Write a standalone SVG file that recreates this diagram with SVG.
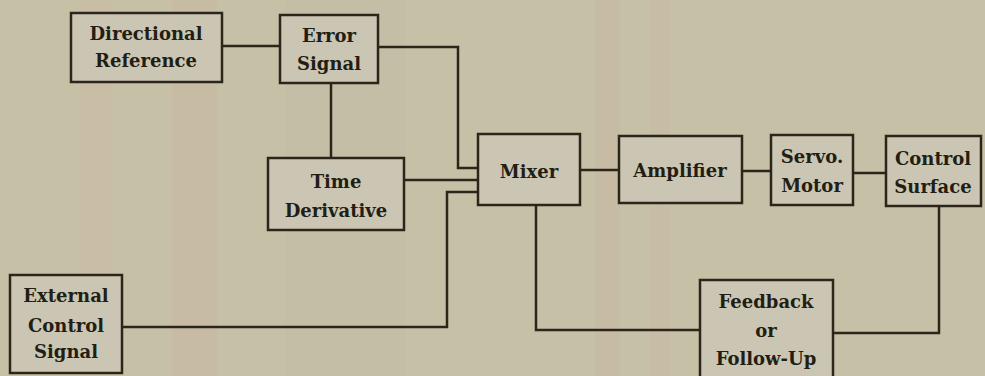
<svg xmlns="http://www.w3.org/2000/svg" width="985" height="376" viewBox="0 0 985 376">
<style>
.box{fill:#cbc6b3;stroke:#2b2619;stroke-width:2.5}
.ln{fill:none;stroke:#2b2619;stroke-width:2.5;stroke-linecap:square}
text{font-family:"DejaVu Serif","Liberation Serif",serif;font-weight:bold;font-size:18px;fill:#231e14;text-anchor:middle}
</style>
<rect x="0" y="0" width="985" height="376" fill="#c6c0a6"/>
<g opacity="0.22">
<rect x="80" y="0" width="30" height="376" fill="#d4b3a3"/>
<rect x="172" y="0" width="45" height="376" fill="#d2ab9a"/>
<rect x="595" y="0" width="25" height="376" fill="#d2ab9a"/>
<rect x="650" y="0" width="20" height="376" fill="#cdb1a4"/>
<rect x="285" y="0" width="120" height="376" fill="#b9b4a6"/>
</g>
<g id="connectors">
<path class="ln" d="M222 46 H280"/>
<path class="ln" d="M378 47 H458 V168 H478"/>
<path class="ln" d="M331 83 V158"/>
<path class="ln" d="M404 180 H478"/>
<path class="ln" d="M122 327 H447 V192 H478"/>
<path class="ln" d="M580 170 H619"/>
<path class="ln" d="M742 171 H771"/>
<path class="ln" d="M853 173 H886"/>
<path class="ln" d="M536 205 V330 H700"/>
<path class="ln" d="M833 333 H939 V206"/>
</g>
<g id="directional-reference">
<rect class="box" x="71" y="13" width="151" height="69"/>
<text x="146" y="40">Directional</text>
<text x="146" y="67">Reference</text>
</g>
<g id="error-signal">
<rect class="box" x="280" y="15" width="98" height="68"/>
<text x="329" y="42">Error</text>
<text x="329" y="70">Signal</text>
</g>
<g id="time-derivative">
<rect class="box" x="268" y="158" width="136" height="72"/>
<text x="336" y="188">Time</text>
<text x="336" y="217">Derivative</text>
</g>
<g id="mixer">
<rect class="box" x="478" y="134" width="102" height="71"/>
<text x="529" y="178">Mixer</text>
</g>
<g id="amplifier">
<rect class="box" x="619" y="136" width="123" height="67"/>
<text x="680" y="177">Amplifier</text>
</g>
<g id="servo-motor">
<rect class="box" x="771" y="135" width="82" height="70"/>
<text x="812" y="163">Servo.</text>
<text x="812" y="192">Motor</text>
</g>
<g id="control-surface">
<rect class="box" x="886" y="136" width="95" height="70"/>
<text x="933" y="165">Control</text>
<text x="933" y="193">Surface</text>
</g>
<g id="external-control-signal">
<rect class="box" x="10" y="275" width="112" height="98"/>
<text x="66" y="302">External</text>
<text x="66" y="332">Control</text>
<text x="66" y="358">Signal</text>
</g>
<g id="feedback">
<rect class="box" x="700" y="280" width="133" height="100"/>
<text x="766" y="308">Feedback</text>
<text x="766" y="337">or</text>
<text x="766" y="365">Follow-Up</text>
</g>
</svg>
